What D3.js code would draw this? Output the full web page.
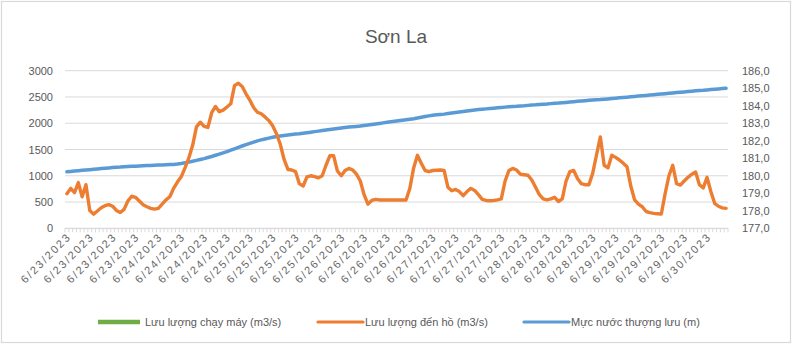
<!DOCTYPE html>
<html><head><meta charset="utf-8">
<script src="https://cdn.jsdelivr.net/npm/d3@7"></script>
<style>
html,body{margin:0;padding:0;background:#fff;}
svg{display:block;}
</style></head>
<body><svg id="c" width="794" height="346"></svg>
<script>
// ---- data ----
const title = "Sơn La";
const seriesNames = ["Lưu lượng chạy máy (m3/s)", "Lưu lượng đến hồ (m3/s)", "Mực nước thượng lưu (m)"];
const tickLabels = ["6/23/2023","6/23/2023","6/23/2023","6/23/2023",
  "6/24/2023","6/24/2023","6/24/2023","6/24/2023",
  "6/25/2023","6/25/2023","6/25/2023","6/25/2023",
  "6/26/2023","6/26/2023","6/26/2023","6/26/2023",
  "6/27/2023","6/27/2023","6/27/2023","6/27/2023",
  "6/28/2023","6/28/2023","6/28/2023","6/28/2023",
  "6/29/2023","6/29/2023","6/29/2023","6/29/2023",
  "6/30/2023"];
const leftTicks = [0,500,1000,1500,2000,2500,3000];
const rightTicks = [177,178,179,180,181,182,183,184,185,186];
// Lưu lượng chạy máy: not shown in the plot
const machineFlow = [];
// Lưu lượng đến hồ (m3/s), hourly
const inflow = [
 660,760,680,870,600,830,340,270,330,390,
 430,450,420,340,300,360,520,610,590,520,
 450,410,380,365,380,460,540,600,760,880,
 980,1150,1340,1580,1930,2020,1940,1920,2200,2320,
 2220,2250,2310,2370,2720,2760,2700,2560,2440,2300,
 2210,2180,2120,2050,1950,1800,1600,1310,1120,1110,
 1080,850,805,980,1000,985,960,1000,1200,1380,
 1380,1090,1000,1100,1140,1110,1030,900,640,460,
 530,550,540,540,540,540,540,540,540,540,
 760,1150,1390,1240,1100,1080,1100,1105,1110,1100,
 780,715,740,700,620,700,760,720,640,550,
 530,525,530,540,560,900,1100,1140,1110,1030,
 1020,1010,920,780,640,560,540,560,590,510,
 560,900,1080,1100,950,850,830,830,1050,1400,
 1740,1200,1150,1390,1350,1300,1240,1170,800,540,
 460,410,320,300,285,278,272,660,1000,1200,
 850,823,900,970,1030,1070,830,770,970,700,
 475,420,390,380];
// Mực nước thượng lưu (m), hourly
const level = [
 180.23,180.25,180.27,180.29,180.31,180.33,180.35,180.37,180.39,180.41,
 180.43,180.45,180.47,180.49,180.50,180.52,180.53,180.54,180.55,180.56,
 180.57,180.58,180.59,180.60,180.61,180.62,180.63,180.64,180.65,180.67,
 180.70,180.74,180.78,180.83,180.88,180.93,180.98,181.04,181.10,181.17,
 181.24,181.31,181.38,181.46,181.54,181.62,181.70,181.78,181.85,181.92,
 181.99,182.05,182.10,182.15,182.20,182.24,182.27,182.30,182.33,182.36,
 182.38,182.40,182.43,182.46,182.49,182.52,182.55,182.58,182.61,182.64,
 182.67,182.70,182.73,182.76,182.78,182.80,182.82,182.84,182.87,182.90,
 182.93,182.96,182.99,183.02,183.05,183.08,183.11,183.14,183.17,183.20,
 183.23,183.26,183.30,183.34,183.38,183.42,183.45,183.48,183.50,183.52,
 183.55,183.58,183.61,183.64,183.67,183.70,183.73,183.76,183.78,183.80,
 183.82,183.84,183.86,183.88,183.90,183.92,183.94,183.96,183.97,183.99,
 184.00,184.02,184.04,184.05,184.07,184.09,184.10,184.12,184.14,184.15,
 184.17,184.19,184.21,184.23,184.25,184.27,184.29,184.31,184.33,184.34,
 184.35,184.37,184.39,184.41,184.43,184.45,184.47,184.49,184.51,184.53,
 184.55,184.57,184.59,184.61,184.63,184.65,184.67,184.69,184.71,184.73,
 184.75,184.77,184.79,184.81,184.83,184.85,184.87,184.88,184.90,184.92,
 184.94,184.96,184.98,185.00];
const labelEvery = 6;
const colors = ["#70AD47", "#ED7D31", "#5B9BD5"];

// ---- chart ----
const svg = d3.select("#c");
const plot = {left: 65, right: 728, top: 70.7, bottom: 228.3};
const font = "'Liberation Sans Narrow','Liberation Sans',Arial,sans-serif";
const textColor = "#595959";

svg.append("rect").attr("x",1.5).attr("y",1.5).attr("width",789).attr("height",341)
  .attr("fill","#fff").attr("stroke","#d9d9d9").attr("stroke-width",1.2);

const n = inflow.length;
const idx = d3.range(n);
const x = d3.scaleBand().domain(idx).range([plot.left, plot.right]);
const yL = d3.scaleLinear().domain([0,3000]).range([plot.bottom, plot.top]);
const yR = d3.scaleLinear().domain([177,186]).range([plot.bottom, plot.top]);

// title
svg.append("text").attr("x",396).attr("y",43).attr("text-anchor","middle")
  .attr("font-family",font).attr("font-size",19).attr("fill",textColor).text(title);

// gridlines
svg.append("g").selectAll("line").data(leftTicks.filter(d=>d>0)).join("line")
  .attr("x1",plot.left).attr("x2",plot.right)
  .attr("y1",d=>yL(d)).attr("y2",d=>yL(d))
  .attr("stroke","#d9d9d9").attr("stroke-width",1);

// left axis
const axL = svg.append("g").attr("transform",`translate(${plot.left-12},0)`)
  .call(d3.axisLeft(yL).tickValues(leftTicks).tickSize(0).tickPadding(0).tickFormat(d3.format("d")));
axL.select(".domain").remove();
axL.selectAll("text").attr("font-family","'Liberation Sans',Arial,sans-serif").attr("font-size",11).attr("fill",textColor);

// right axis
const axR = svg.append("g").attr("transform",`translate(${plot.right+14},0)`)
  .call(d3.axisRight(yR).tickValues(rightTicks).tickSize(0).tickPadding(0).tickFormat(d=>d3.format(".1f")(d).replace(".",",")));
axR.select(".domain").remove();
axR.selectAll("text").attr("font-family","'Liberation Sans',Arial,sans-serif").attr("font-size",11).attr("fill",textColor);

// x axis
const axX = svg.append("g").attr("transform",`translate(0,${plot.bottom})`);
axX.append("line").attr("x1",plot.left).attr("x2",plot.right).attr("stroke","#d9d9d9").attr("stroke-width",1.3);
axX.selectAll("line.tk").data(d3.range(n+1)).join("line").attr("class","tk")
  .attr("x1",d=>plot.left + d*x.step()).attr("x2",d=>plot.left + d*x.step())
  .attr("y1",0).attr("y2",4).attr("stroke","#d9d9d9").attr("stroke-width",1);
axX.selectAll("text").data(tickLabels).join("text")
  .attr("transform",(d,i)=>`translate(${x(i*labelEvery)+x.bandwidth()/2+3},${7}) rotate(-45)`)
  .attr("text-anchor","end").attr("dominant-baseline","middle")
  .attr("font-family","'Liberation Sans',Arial,sans-serif").attr("font-size",11)
  .attr("letter-spacing",1.9).attr("fill","#666666")
  .text(d=>d);

// lines
const cx = i => x(i) + x.bandwidth()/2;
svg.append("path").datum(level)
  .attr("fill","none").attr("stroke",colors[2]).attr("stroke-width",3.5).attr("stroke-linejoin","round").attr("stroke-linecap","round")
  .attr("d", d3.line().x((d,i)=>cx(i)).y(d=>yR(d)));
svg.append("path").datum(inflow)
  .attr("fill","none").attr("stroke",colors[1]).attr("stroke-width",3.4).attr("stroke-linejoin","round").attr("stroke-linecap","round")
  .attr("d", d3.line().x((d,i)=>cx(i)).y(d=>yL(d)));

// legend
const legX = [98, 318, 524];
const lg = svg.append("g").selectAll("g").data(seriesNames).join("g")
  .attr("transform",(d,i)=>`translate(${legX[i]},322)`);
lg.append("line").attr("x1",0).attr("x2",(d,i)=> i===0?42:45).attr("y1",0).attr("y2",0)
  .attr("stroke",(d,i)=>colors[i]).attr("stroke-width",(d,i)=> i===0?4.5:3.2).attr("stroke-linecap",(d,i)=>i===0?"butt":"round");
lg.append("text").attr("x",47).attr("y",0).attr("dominant-baseline","central")
  .attr("font-family",font).attr("font-size",11).attr("fill",textColor).text(d=>d);
</script></body></html>
